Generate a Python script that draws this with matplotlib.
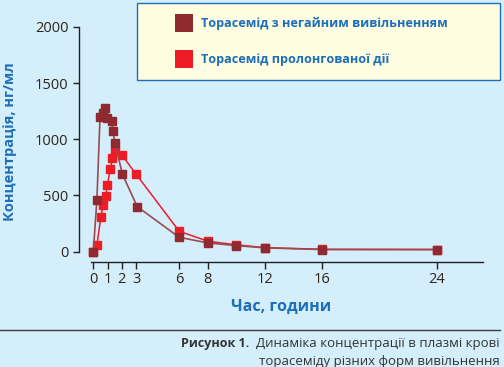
import matplotlib.pyplot as plt
from matplotlib.patches import Rectangle
from matplotlib.lines import Line2D

# Data (hours, ng/ml)
t_ir = [0, 0.25, 0.47, 0.66, 0.84, 0.94, 1.29, 1.36, 1.52, 2.03, 3.07, 6, 8, 10, 12, 16, 24]
c_ir = [0, 460, 1200, 1235, 1280, 1190, 1160, 1070, 965, 690, 400, 127, 77, 53, 33, 18, 18]

t_pr = [0, 0.26, 0.52, 0.70, 0.87, 0.98, 1.19, 1.33, 1.52, 1.98, 2.96, 6, 8, 10, 12, 16, 24]
c_pr = [0, 62, 305, 418, 498, 590, 735, 830, 892, 863, 694, 181, 92, 60, 35, 20, 18]

x_ticks = [0, 1, 2, 3, 6, 8, 12, 16, 24]
y_ticks = [0, 500, 1000, 1500, 2000]

label_ir = 'Торасемід з негайним вивільненням'
label_pr = 'Торасемід пролонгованої дії'

bg = '#d5eefb'
blue = '#1c6fb8'
dark_red = '#8e2a30'
red = '#ee1c25'
tick_col = '#2e2418'

plt.rcParams['font.family'] = ['Open Sans', 'DejaVu Sans']

W, H = 504, 367
fig = plt.figure(figsize=(W / 100, H / 100), dpi=100, facecolor=bg)

# axes placed in pixel terms
ax = fig.add_axes([79 / W, 1 - 262 / H, (483 - 79) / W, (262 - 27) / H])
ax.set_facecolor(bg)
ax.set_xlim(-1.0, 27.23)
ax.set_ylim(-93, 2000)

ax.plot(t_pr, c_pr, '-', color=red, lw=1.1, marker='s', ms=6.2, mfc=red, mec=red,
        clip_on=False, zorder=3)
ax.plot(t_ir, c_ir, '-', color='#9a4a50', lw=1.2, marker='s', ms=6.2, mfc=dark_red,
        mec=dark_red, clip_on=False, zorder=4)

for s in ['top', 'right']:
    ax.spines[s].set_visible(False)
ax.spines['left'].set_bounds(0, 2000)
ax.spines['bottom'].set_bounds(-0.15, 27.23)
for s in ['left', 'bottom']:
    ax.spines[s].set_color('#231f20')
    ax.spines[s].set_linewidth(1.0)

ax.set_xticks(x_ticks)
ax.set_yticks(y_ticks)
ax.tick_params(axis='both', colors='#231f20', labelcolor=tick_col, labelsize=10.5)
ax.tick_params(axis='y', length=4.5, width=1, pad=3)
ax.tick_params(axis='x', length=5, width=1, pad=2)

ax.set_xlabel('Час, години', color=blue, fontsize=11.5, fontweight='bold', labelpad=9)
fig.text(10 / W, 1 - 142 / H, 'Концентрація, нг/мл', color=blue, fontsize=10.5,
         fontweight='bold', rotation=90, ha='center', va='center')

# legend box
fig.patches.append(Rectangle((137 / W, 1 - 80 / H), (500 - 137) / W, 77 / H,
                             transform=fig.transFigure, facecolor='#fffde1',
                             edgecolor=blue, lw=1.0))
for yy, col, lab in [(23, dark_red, label_ir), (59, red, label_pr)]:
    fig.patches.append(Rectangle((175 / W, 1 - (yy + 9) / H), 18 / W, 18 / H,
                                 transform=fig.transFigure, facecolor=col,
                                 edgecolor='none'))
    fig.text(201 / W, 1 - yy / H, lab, color=blue, fontsize=9.1, fontweight='bold',
             ha='left', va='center')

# divider and caption
fig.add_artist(Line2D([0, 500 / W], [1 - 329.5 / H] * 2, transform=fig.transFigure,
                      color='#3c3c3c', lw=1.0))
fig.text(500 / W, 1 - 343 / H, 'Динаміка концентрації в плазмі крові', color='#333333',
         fontsize=9.5, ha='right', va='center')
fig.text(181 / W, 1 - 343 / H, 'Рисунок 1.', color='#333333', fontsize=9,
         fontweight='bold', ha='left', va='center')
fig.text(500 / W, 1 - 361 / H, 'торасеміду різних форм вивільнення', color='#333333',
         fontsize=9.5, ha='right', va='center')

fig.savefig('out.png', dpi=100, facecolor=bg)
